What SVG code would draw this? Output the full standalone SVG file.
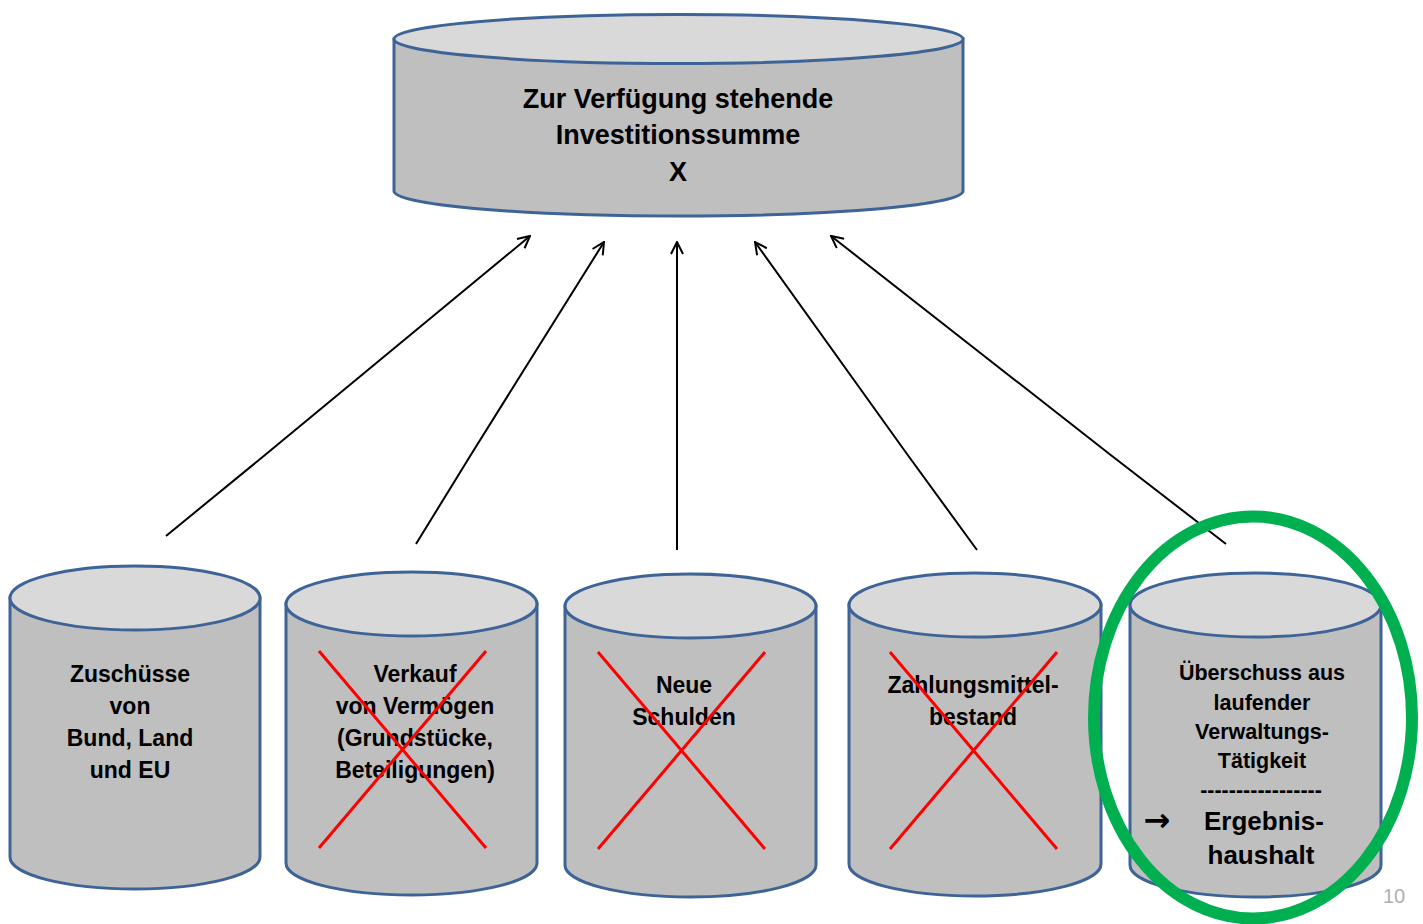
<svg xmlns="http://www.w3.org/2000/svg" width="1423" height="924" viewBox="0 0 1423 924">
<style>
.side{fill:#bfbfbf;stroke:#3e6396;stroke-width:3}
.top{fill:#d9d9d9;stroke:#3e6396;stroke-width:3}
.t{font-family:"Liberation Sans",Arial,sans-serif;font-weight:bold;fill:#000;text-anchor:middle}
.big{font-size:27px}
.mid{font-size:23px}
.sm{font-size:21.5px}
.cross{stroke:#ff0000;stroke-width:3;fill:none}
.conn{stroke:#000;stroke-width:2;fill:none}
</style>
<defs>
<marker id="arr" viewBox="0 0 14 14" refX="13" refY="7" markerWidth="14" markerHeight="14" markerUnits="userSpaceOnUse" orient="auto">
<path d="M1,1 L13,7 L1,13" fill="none" stroke="#000" stroke-width="2"/>
</marker>
</defs>
<rect width="1423" height="924" fill="#ffffff"/>

<g id="connectors">
<path class="conn" d="M166,536 L265,455 L530,236" marker-end="url(#arr)"/>
<path class="conn" d="M416,544 L472,453 L604,242" marker-end="url(#arr)"/>
<path class="conn" d="M677,550 L677,242" marker-end="url(#arr)"/>
<path class="conn" d="M977,550 L907,454 L755,242" marker-end="url(#arr)"/>
<path class="conn" d="M1226,544 L1112,456 L831,236" marker-end="url(#arr)"/>
</g>

<g id="top-store">
<path class="side" d="M394,39 L394,191 A284.5,25 0 0 0 963,191 L963,39 Z"/>
<ellipse class="top" cx="678.5" cy="39" rx="284.5" ry="24.5"/>
<text class="t big" x="678" y="108">Zur Verfügung stehende</text>
<text class="t big" x="678" y="144">Investitionssumme</text>
<text class="t big" x="678" y="181">X</text>
</g>

<g id="zuschuesse">
<path class="side" d="M10,598 L10,857 A125,32 0 0 0 260,857 L260,598 Z"/>
<ellipse class="top" cx="135" cy="598" rx="125" ry="32"/>
<text class="t mid" x="130" y="682">Zuschüsse</text>
<text class="t mid" x="130" y="714">von</text>
<text class="t mid" x="130" y="746">Bund, Land</text>
<text class="t mid" x="130" y="778">und EU</text>
</g>

<g id="verkauf">
<path class="side" d="M286,604 L286,863 A125.5,32 0 0 0 537,863 L537,604 Z"/>
<ellipse class="top" cx="411.5" cy="604" rx="125.5" ry="32"/>
<text class="t mid" x="415" y="682">Verkauf</text>
<text class="t mid" x="415" y="714">von Vermögen</text>
<text class="t mid" x="415" y="746">(Grundstücke,</text>
<text class="t mid" x="415" y="778">Beteiligungen)</text>
<path class="cross" d="M319,651 L486,848 M486,651 L319,848"/>
</g>

<g id="schulden">
<path class="side" d="M565,606 L565,865 A125.5,32 0 0 0 816,865 L816,606 Z"/>
<ellipse class="top" cx="690.5" cy="606" rx="125.5" ry="32"/>
<text class="t mid" x="684" y="693">Neue</text>
<text class="t mid" x="684" y="725">Schulden</text>
<path class="cross" d="M598,652 L765,849 M765,652 L598,849"/>
</g>

<g id="zahlungsmittel">
<path class="side" d="M849,605 L849,864 A126,32 0 0 0 1101,864 L1101,605 Z"/>
<ellipse class="top" cx="975" cy="605" rx="126" ry="32"/>
<text class="t mid" x="973" y="693">Zahlungsmittel-</text>
<text class="t mid" x="973" y="725">bestand</text>
<path class="cross" d="M890,652 L1057,849 M1057,652 L890,849"/>
</g>

<g id="ueberschuss">
<path class="side" d="M1130,605 L1130,865 A125.5,32 0 0 0 1381,865 L1381,605 Z"/>
<ellipse class="top" cx="1255.5" cy="605" rx="125.5" ry="32"/>
<text class="t sm" x="1262" y="680">Überschuss aus</text>
<text class="t sm" x="1262" y="710">laufender</text>
<text class="t sm" x="1262" y="739">Verwaltungs-</text>
<text class="t sm" x="1262" y="768">Tätigkeit</text>
<text class="t sm" x="1261" y="797">-----------------</text>
<text x="1157" y="831" font-family="DejaVu Sans,sans-serif" font-weight="bold" font-size="32" text-anchor="middle" fill="#000">→</text>
<text class="t" x="1264" y="830" font-size="26">Ergebnis-</text>
<text class="t" x="1261" y="864" font-size="26">haushalt</text>
</g>

<g id="highlight">
<ellipse cx="1253" cy="717.5" rx="159" ry="201" fill="none" stroke="#00b050" stroke-width="12"/>
</g>

<text x="1394" y="903" font-family="Liberation Sans,Arial,sans-serif" font-size="20" fill="#b0b0b0" text-anchor="middle">10</text>
</svg>
